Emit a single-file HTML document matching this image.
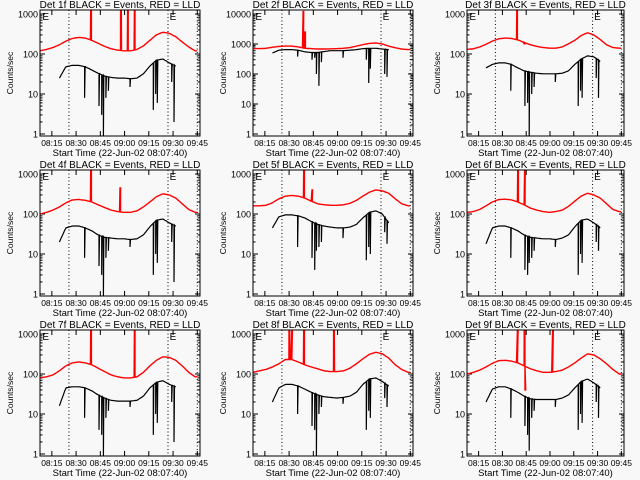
<!DOCTYPE html>
<html><head><meta charset="utf-8"><style>
html,body{margin:0;padding:0;background:#f8f8f8;}
svg{display:block;font-family:"Liberation Sans",sans-serif;}
</style></head><body>
<svg id="c" width="640" height="480" viewBox="0 0 640 480">
<rect width="640" height="480" fill="#f8f8f8"/>
</svg>
<script>
const redT=[0,4,8,12,16,20,24,28,32,36,40,44,48,52,56,60,64,68,72,76,80,84,88,92,96];
const blackT=[12,16,20,24,28,32,36,40,44,48,52,56,60,64,68,72,76,80,84];
const xTickLabels=["08:15","08:30","08:45","09:00","09:15","09:30","09:45"];
const xTickTimes=[7.33,22.33,37.33,52.33,67.33,82.33,97.33];
const dottedTimes=[17.9,79.2,97.3];
const panelNames=["1f","2f","3f","4f","5f","6f","7f","8f","9f"];
const panelDecades=[3,4,3,3,3,3,3,3,3];
const dipT=[27.6,36.5,38.2,39.2,40.8,42.3,55.7,70.1,71.6,72.6,81.5,82.9];

const p1Red=[120,130,145,170,210,245,260,250,220,185,155,135,125,120,120,130,160,220,300,350,330,270,200,150,120];
const p1Black=[25,48,52,52,48,40,33,28,26,25,25,24,25,32,50,70,75,60,50];
const p1Spikes=[[31.4,1200],[49.9,1200],[54.2,1200],[58.4,1200]];
const p1Dips=[8,5,3,0.8,8,12,15,4,10,6,20,2];

const p2Red=[700,700,720,780,830,850,850,800,720,700,680,680,690,700,720,760,850,950,1050,1080,1000,850,750,680,650];
const p2Black=[500,620,650,650,620,550,520,520,560,600,600,600,620,650,700,720,720,680,650];
const p2Spikes=[[31,12000],[32,2500]];
const p2Dips=[380,300,350,100,40,250,350,300,50,150,100,80];

const p3Red=[130,135,150,175,210,240,250,245,225,195,170,155,145,140,140,150,180,220,290,340,300,230,170,145,140];
const p3Black=[45,55,60,60,55,45,38,35,33,32,32,32,33,38,55,75,90,85,65];
const p3Spikes=[[31.4,1200],[36,180]];
const p3Dips=[12,5,6,0.8,10,15,20,5,12,8,25,8];

const p4Red=[100,110,125,150,190,225,230,220,200,170,145,125,115,110,110,120,150,200,270,320,300,250,180,130,110];
const p4Black=[20,45,50,50,45,38,30,26,25,24,24,23,24,30,48,70,75,60,50];
const p4Spikes=[[31.4,1200],[49.5,450]];
const p4Dips=[8,5,3,0.8,8,12,15,3,10,6,20,2];

const p5Red=[160,160,165,190,240,280,290,280,250,210,180,170,165,165,170,185,220,280,350,400,380,330,240,180,160];
const p5Black=[45,85,95,95,90,80,65,55,50,47,45,45,47,55,80,110,120,100,60];
const p5Spikes=[[31.4,1200],[36.5,400]];
const p5Dips=[15,8,4,12,15,20,25,7,15,10,35,18];

const p6Red=[110,115,130,160,200,230,235,225,200,170,140,125,115,110,115,125,155,210,280,330,300,250,180,130,115];
const p6Black=[18,45,50,50,45,38,30,26,25,24,24,23,25,30,48,70,75,60,45];
const p6Spikes=[[32,1200],[36.3,1200]];
const p6Dips=[8,4,3,6,8,12,15,3,10,6,20,12];

const p7Red=[80,85,95,120,160,190,200,190,170,140,115,95,85,80,80,85,110,160,220,270,260,220,160,110,85];
const p7Black=[16,45,48,48,45,38,30,25,22,21,21,21,22,28,45,62,68,55,48];
const p7Spikes=[[31.4,1200],[58.4,1200]];
const p7Dips=[8,4,3,0.8,8,12,15,3,10,6,20,2];

const p8Red=[110,120,130,150,180,230,230,200,170,150,135,120,115,115,120,140,180,240,310,350,320,250,170,130,110];
const p8Black=[20,45,55,55,50,42,35,30,27,26,25,26,28,35,55,75,80,65,50];
const p8Spikes=[[22.3,1200],[24,1200],[31.4,1200],[49.9,1200]];
const p8Dips=[10,5,4,0.8,10,15,18,4,12,8,25,15];

const p9Red=[100,110,125,150,185,215,220,210,190,160,135,120,110,110,115,125,150,190,250,320,300,240,180,130,100];
const p9Black=[20,42,48,48,42,35,28,24,23,23,23,23,25,30,45,65,75,60,45];
const p9Spikes=[[31.8,1200],[36.1,1200],[36.6,40],[54,1200]];
const p9Dips=[8,5,3,1.2,8,12,15,4,10,6,20,8];

const allRed=[p1Red,p2Red,p3Red,p4Red,p5Red,p6Red,p7Red,p8Red,p9Red];
const allBlack=[p1Black,p2Black,p3Black,p4Black,p5Black,p6Black,p7Black,p8Black,p9Black];
const allSpikes=[p1Spikes,p2Spikes,p3Spikes,p4Spikes,p5Spikes,p6Spikes,p7Spikes,p8Spikes,p9Spikes];
const allDips=[p1Dips,p2Dips,p3Dips,p4Dips,p5Dips,p6Dips,p7Dips,p8Dips,p9Dips];

const svg=document.getElementById('c');
const NS="http://www.w3.org/2000/svg";
function mk(tag,attrs,parent){const e=document.createElementNS(NS,tag);for(const k in attrs)e.setAttribute(k,attrs[k]);parent.appendChild(e);return e;}
function interp(ts,vs,t){if(t<=ts[0])return vs[0];for(let i=1;i<ts.length;i++){if(t<=ts[i]){const f=(t-ts[i-1])/(ts[i]-ts[i-1]);return Math.pow(10,Math.log10(vs[i-1])*(1-f)+Math.log10(vs[i])*f);}}return vs[vs.length-1];}

const colLeft=[40,253,467],colW=[160,160,157],rowTop=[10,170,330],boxH=126;
for(let p=0;p<9;p++){
  const bx=colLeft[p%3],bw=colW[p%3],by=rowTop[Math.floor(p/3)],dec=panelDecades[p];
  const X=t=>bx+t/99*bw;
  const Y=v=>by+4+(dec-Math.log10(v))*120/dec;
  const g=mk('g',{},svg);
  
  
  const cp=mk('clipPath',{id:'cp'+p},g);mk('rect',{x:bx,y:by,width:bw,height:boxH},cp);
  const ttl=mk('text',{x:bx+bw/2,y:by-2,'font-size':'10','text-anchor':'middle',fill:'#000'},g);
  ttl.textContent='Det '+panelNames[p]+' BLACK = Events, RED = LLD';
  
  
  // y ticks
  for(let d=0;d<=dec;d++){
    const yy=Y(Math.pow(10,d));
    mk('line',{x1:bx,x2:bx+5,y1:yy,y2:yy,stroke:'#000','stroke-width':1},g);
    mk('line',{x1:bx+bw-5,x2:bx+bw,y1:yy,y2:yy,stroke:'#000','stroke-width':1},g);
    const tl=mk('text',{x:bx-2,y:yy+3.5,'font-size':'9','text-anchor':'end',fill:'#000'},g);
    tl.textContent=String(Math.pow(10,d));
    
    
    if(d<dec){for(let m=2;m<10;m++){const ym=Y(m*Math.pow(10,d));
      mk('line',{x1:bx,x2:bx+2.5,y1:ym,y2:ym,stroke:'#000','stroke-width':1},g);
      mk('line',{x1:bx+bw-2.5,x2:bx+bw,y1:ym,y2:ym,stroke:'#000','stroke-width':1},g);}}
  }
  // x ticks
  for(let i=0;i<xTickTimes.length;i++){
    const xx=X(xTickTimes[i]);
    mk('line',{x1:xx,x2:xx,y1:by+boxH,y2:by+boxH-5,stroke:'#000'},g);
    mk('line',{x1:xx,x2:xx,y1:by,y2:by+5,stroke:'#000'},g);
    const tl=mk('text',{x:xx,y:by+boxH+10,'font-size':'8.5','text-anchor':'middle',fill:'#000'},g);
    tl.textContent=xTickLabels[i];
    
    
  }
  const xt=mk('text',{x:bx+bw/2,y:by+boxH+20,'font-size':'9.5','text-anchor':'middle',fill:'#000'},g);
  xt.textContent='Start Time (22-Jun-02 08:07:40)';
  
  
  const yt=mk('text',{x:0,y:0,'font-size':'8.5','text-anchor':'middle',fill:'#000',transform:'translate('+(bx-27)+','+(by+boxH/2)+') rotate(-90)'},g);
  yt.textContent='Counts/sec';
  
  
  // dotted lines
  for(const t of dottedTimes){const l=mk('line',{x1:X(t),x2:X(t),y1:by,y2:by+boxH,stroke:'#000','stroke-dasharray':'1,2.5'},g);
    
    }
  for(const t of [1.5,dottedTimes[1]+1]){const e=mk('text',{x:X(t),y:by+10,'font-size':'10',fill:'#000'},g);e.textContent='E';
    
    }
  const cg=mk('g',{'clip-path':'url(#cp'+p+')'},g);
  // red
  let rp=[];const rts=[...redT,99];const rvs=[...allRed[p],allRed[p][allRed[p].length-1]];
  const sp=allSpikes[p];
  for(let t=0;t<=97.5;t+=0.6){
    let v=interp(rts,rvs,t);rp.push(X(t).toFixed(1)+','+Y(v).toFixed(1));
    for(const s of sp){if(s[0]>=t&&s[0]<t+0.6){rp.push(X(s[0]).toFixed(1)+','+Y(s[1]).toFixed(1));rp.push(X(s[0]+0.4).toFixed(1)+','+Y(s[1]).toFixed(1));}}
  }
  const rl=mk('polyline',{points:rp.join(' '),fill:'none',stroke:'#ff0000','stroke-width':1.4},cg);
  
  
  // black
  let bp=[];const bv=allBlack[p];const dv=allDips[p];
  for(let t=blackT[0];t<=blackT[blackT.length-1];t+=0.6){
    let v=interp(blackT,bv,t);bp.push(X(t).toFixed(1)+','+Y(v).toFixed(1));
    for(let i=0;i<dipT.length;i++){if(dipT[i]>=t&&dipT[i]<t+0.6){const vv=interp(blackT,bv,dipT[i]);
      bp.push(X(dipT[i]).toFixed(1)+','+Y(vv).toFixed(1));bp.push(X(dipT[i]).toFixed(1)+','+Y(dv[i]).toFixed(1));bp.push(X(dipT[i]+0.3).toFixed(1)+','+Y(vv).toFixed(1));}}
  }
  const bl=mk('polyline',{points:bp.join(' '),fill:'none',stroke:'#000','stroke-width':1.2},cg);
  
  
  mk('rect',{x:bx,y:by,width:bw,height:boxH,fill:'none',stroke:'#000','stroke-width':1},g);
}
</script>
</body></html>
